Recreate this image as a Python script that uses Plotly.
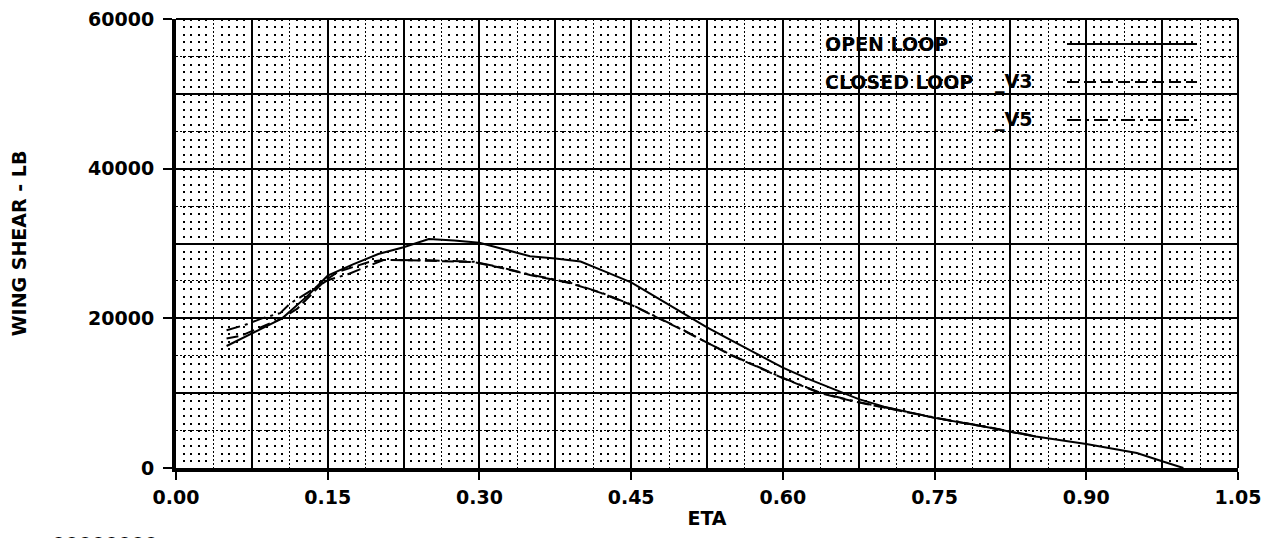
import plotly.graph_objects as go

# ---- data ----
eta_open = [0.05, 0.075, 0.105, 0.13, 0.15, 0.175, 0.20, 0.225, 0.25, 0.275, 0.30,
            0.325, 0.35, 0.375, 0.40, 0.425, 0.45, 0.475, 0.50, 0.525, 0.55, 0.575,
            0.60, 0.625, 0.65, 0.675, 0.70, 0.75, 0.80, 0.825, 0.85, 0.90, 0.95,
            0.975, 0.996]
shear_open = [16300, 18000, 20000, 23000, 25700, 27200, 28600, 29500, 30600, 30400, 30100,
              29200, 28300, 28000, 27600, 26200, 24800, 22800, 20800, 18800, 17000, 15200,
              13400, 11900, 10500, 9200, 8200, 6700, 5500, 4800, 4200, 3200, 2000,
              900, 0]

eta_v3 = [0.05, 0.065, 0.08, 0.105, 0.12, 0.147, 0.16, 0.19, 0.205, 0.25, 0.295, 0.32,
          0.35, 0.39, 0.42, 0.45, 0.50, 0.525, 0.55, 0.60, 0.637, 0.67, 0.70, 0.75, 0.80, 0.85]
shear_v3 = [17300, 17700, 18600, 20000, 21300, 25000, 26200, 27500, 27800, 27700, 27500, 26800,
            25800, 24700, 23400, 21800, 18500, 16700, 15000, 12000, 10000, 8900, 8100, 6700, 5500, 4200]

eta_v5 = [0.05, 0.07, 0.085, 0.103, 0.113, 0.13, 0.15, 0.17, 0.19, 0.205, 0.25, 0.295, 0.32,
          0.35, 0.39, 0.42, 0.45, 0.50, 0.525, 0.55, 0.60, 0.637, 0.67, 0.70, 0.75, 0.80, 0.85]
shear_v5 = [18400, 19200, 20000, 20700, 22000, 23400, 25100, 25900, 27000, 27800, 27750, 27550, 26850,
            25850, 24750, 23450, 21850, 18550, 16750, 15050, 12050, 10050, 8950, 8150, 6750, 5550, 4250]

x_ticks = [0.00, 0.15, 0.30, 0.45, 0.60, 0.75, 0.90, 1.05]
x_ticklabels = ["0.00", "0.15", "0.30", "0.45", "0.60", "0.75", "0.90", "1.05"]
y_ticks = [0, 20000, 40000, 60000]
y_ticklabels = ["0", "20000", "40000", "60000"]

FONT = "DejaVu Sans"
FS = 19
TXT = dict(family=FONT, size=FS, color="black", weight=700)

fig = go.Figure()
fig.add_trace(go.Scatter(x=eta_open, y=shear_open, mode="lines", name="OPEN LOOP",
                         line=dict(color="black", width=2)))
fig.add_trace(go.Scatter(x=eta_v3, y=shear_v3, mode="lines", name="CLOSED LOOP _V3",
                         line=dict(color="black", width=2, dash="12px,5px")))
fig.add_trace(go.Scatter(x=eta_v5, y=shear_v5, mode="lines", name="_V5",
                         line=dict(color="black", width=2, dash="14px,5px,3px,5px")))
# empty trace to carry the overlay axes (fine grid)
fig.add_trace(go.Scatter(x=[], y=[], xaxis="x2", yaxis="y2", showlegend=False, hoverinfo="skip"))

fig.update_layout(
    width=1284, height=538,
    margin=dict(l=168, r=54, t=11, b=78, autoexpand=False),
    paper_bgcolor="white", plot_bgcolor="white",
    showlegend=False,
    font=TXT,
    xaxis=dict(
        range=[0, 1.05], tickmode="array", tickvals=x_ticks, ticktext=x_ticklabels,
        ticks="outside", ticklen=8, tickwidth=2, tickcolor="black",
        ticklabelstandoff=1, automargin=False, ticklabeloverflow="allow",
        tickfont=TXT,
        showline=True, linewidth=4, linecolor="black",
        showgrid=True, gridcolor="black", gridwidth=1.5,
        minor=dict(tick0=0, dtick=0.075, showgrid=True, gridcolor="black", gridwidth=1.5, ticks=""),
        zeroline=False,
        title=dict(text="ETA", font=TXT, standoff=6),
    ),
    yaxis=dict(
        range=[0, 60000], tickmode="array", tickvals=y_ticks, ticktext=y_ticklabels,
        ticks="outside", ticklen=9, tickwidth=2, tickcolor="black",
        ticklabelstandoff=5, automargin=False, ticklabeloverflow="allow",
        tickfont=TXT,
        showline=True, linewidth=4, linecolor="black",
        showgrid=True, gridcolor="black", gridwidth=1.5,
        minor=dict(tick0=0, dtick=10000, showgrid=True, gridcolor="black", gridwidth=1.5, ticks=""),
        zeroline=False,
        title=dict(text="WING SHEAR - LB", font=TXT, standoff=58),
    ),
    xaxis2=dict(
        overlaying="x", anchor="y2", range=[0, 1.05], showline=False, showticklabels=False,
        ticks="", tick0=0, dtick=0.0375, showgrid=True, gridcolor="black", gridwidth=1,
        griddash="2px,2px", zeroline=False, automargin=False,
        minor=dict(tick0=0, dtick=0.0075, showgrid=True, gridcolor="black", gridwidth=2,
                   griddash="2px,5.48px", ticks=""),
    ),
    yaxis2=dict(
        overlaying="y", anchor="x2", range=[0, 60000], showline=False, showticklabels=False,
        ticks="", tick0=0, dtick=5000, showgrid=True, gridcolor="black", gridwidth=1,
        griddash="2px,2px", zeroline=False, automargin=False,
    ),
)

# thin top and right frame of the plotting area
fig.add_shape(type="line", xref="paper", yref="paper", x0=0, x1=1, y0=1, y1=1,
              line=dict(color="black", width=2), layer="above")
fig.add_shape(type="line", xref="paper", yref="paper", x0=1, x1=1, y0=0, y1=1,
              line=dict(color="black", width=2), layer="above")

# legend drawn as in the reference: text on the left, line samples on the right
fig.add_annotation(x=0.6092, y=0.9443, xref="paper", yref="paper", text="OPEN LOOP",
                   showarrow=False, xanchor="left", yanchor="middle", font=TXT)
fig.add_annotation(x=0.6092, y=0.8597, xref="paper", yref="paper", text="CLOSED LOOP",
                   showarrow=False, xanchor="left", yanchor="middle", font=TXT)
fig.add_annotation(x=0.7693, y=0.8597, xref="paper", yref="paper", text="_V3",
                   showarrow=False, xanchor="left", yanchor="middle", font=TXT)
fig.add_annotation(x=0.7693, y=0.7751, xref="paper", yref="paper", text="_V5",
                   showarrow=False, xanchor="left", yanchor="middle", font=TXT)
fig.add_shape(type="line", xref="paper", yref="paper", x0=0.839, x1=0.9614, y0=0.9443, y1=0.9443,
              line=dict(color="black", width=2))
fig.add_shape(type="line", xref="paper", yref="paper", x0=0.839, x1=0.9614, y0=0.8597, y1=0.8597,
              line=dict(color="black", width=2, dash="12px,5px"))
fig.add_shape(type="line", xref="paper", yref="paper", x0=0.839, x1=0.9614, y0=0.7751, y1=0.7751,
              line=dict(color="black", width=2, dash="14px,5px,3px,5px"))

# partially visible label at the bottom-left edge of the page
fig.add_annotation(x=(50 - 176) / 1062, y=(468 - 531) / 449, xref="paper", yref="paper",
                   text="00000000", showarrow=False, xanchor="left", yanchor="top", font=TXT)

fig.write_html("out.html")
